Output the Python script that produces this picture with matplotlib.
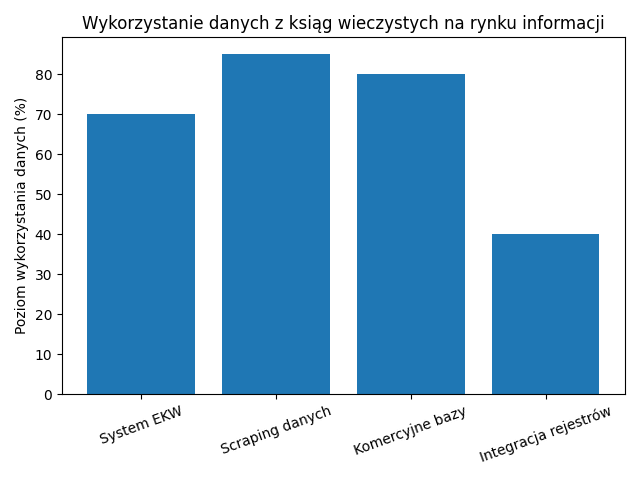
import matplotlib
matplotlib.use("Agg")
import matplotlib.pyplot as plt

categories = ["System EKW", "Scraping danych", "Komercyjne bazy", "Integracja rejestrów"]
values = [70, 85, 80, 40]

fig, ax = plt.subplots(figsize=(6.4, 4.8), dpi=100)
ax.bar(categories, values, color="#1f77b4")
ax.set_title("Wykorzystanie danych z ksiąg wieczystych na rynku informacji")
ax.set_ylabel("Poziom wykorzystania danych (%)")
plt.xticks(rotation=20)
fig.tight_layout()
fig.savefig("out.png")
